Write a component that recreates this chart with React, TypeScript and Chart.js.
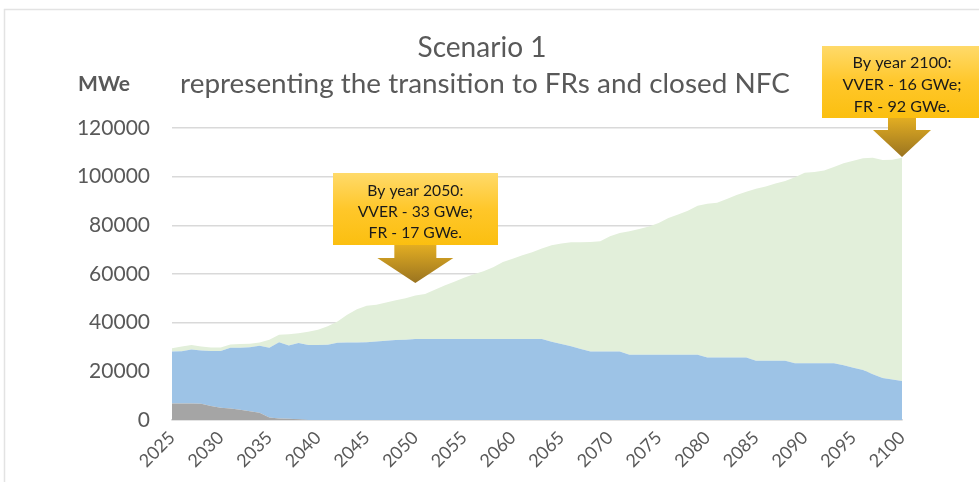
import React, { useEffect, useRef } from "react";
import { Chart, registerables } from "chart.js";

Chart.register(...registerables);

// ---------- DATA ----------
const years: string[] = [
  "2025", "2026", "2027", "2028", "2029", "2030", "2031", "2032", "2033", "2034",
  "2035", "2036", "2037", "2038", "2039", "2040", "2041", "2042", "2043", "2044",
  "2045", "2046", "2047", "2048", "2049", "2050", "2051", "2052", "2053", "2054",
  "2055", "2056", "2057", "2058", "2059", "2060", "2061", "2062", "2063", "2064",
  "2065", "2066", "2067", "2068", "2069", "2070", "2071", "2072", "2073", "2074",
  "2075", "2076", "2077", "2078", "2079", "2080", "2081", "2082", "2083", "2084",
  "2085", "2086", "2087", "2088", "2089", "2090", "2091", "2092", "2093", "2094",
  "2095", "2096", "2097", "2098", "2099", "2100",
];

// grey: older units (MWe)
const oldUnits: number[] = [
  6800, 6800, 6800, 6700, 5800, 5000, 4700, 4200, 3600, 3000,
  1000, 600, 500, 300, 0, 0, 0, 0, 0, 0,
  0, 0, 0, 0, 0, 0, 0, 0, 0, 0,
  0, 0, 0, 0, 0, 0, 0, 0, 0, 0,
  0, 0, 0, 0, 0, 0, 0, 0, 0, 0,
  0, 0, 0, 0, 0, 0, 0, 0, 0, 0,
  0, 0, 0, 0, 0, 0, 0, 0, 0, 0,
  0, 0, 0, 0, 0, 0,
];

// blue: VVER (MWe)
const vverUnits: number[] = [
  21300, 21500, 22200, 21900, 22600, 23400, 25000, 25500, 26300, 27500,
  28700, 31400, 30100, 31300, 30800, 30800, 30900, 31700, 31900, 31900,
  32000, 32300, 32600, 32900, 33000, 33300, 33300, 33300, 33300, 33300,
  33300, 33300, 33300, 33300, 33300, 33300, 33300, 33300, 33300, 32200,
  31200, 30300, 29200, 28200, 28200, 28200, 28200, 26800, 26800, 26800,
  26800, 26800, 26800, 26800, 26800, 25700, 25700, 25700, 25700, 25700,
  24400, 24400, 24400, 24400, 23300, 23300, 23300, 23300, 23300, 22500,
  21500, 20500, 18800, 17300, 16600, 16000,
];

// green: FR (MWe)
const frUnits: number[] = [
  1400, 1900, 1800, 1600, 1400, 1400, 1300, 1500, 1400, 1400,
  3300, 3000, 4600, 4100, 5500, 6300, 7600, 8800, 11400, 13600,
  15000, 15100, 15700, 16300, 17000, 17900, 18500, 20200, 22000, 23500,
  25200, 26600, 27800, 29500, 31600, 33000, 34400, 35600, 37200, 39600,
  41300, 42700, 43800, 45000, 45300, 47300, 48700, 50800, 51700, 52700,
  54200, 56200, 57700, 59200, 61200, 63200, 63600, 65100, 66800, 68100,
  70600, 71600, 72800, 73800, 76500, 78300, 78600, 79200, 80700, 83000,
  85000, 87100, 89000, 89500, 90400, 91800,
];

const yMin = 0;
const yMax = 120000;
const yStep = 20000;

const titleLines: string[] = ["Scenario 1", "representing the transition to FRs and closed NFC"];
const yUnitLabel = "MWe";

const callout2050: string[] = ["By year 2050:", "VVER - 33 GWe;", "FR - 17 GWe."];
const callout2100: string[] = ["By year 2100:", "VVER - 16 GWe;", "FR - 92 GWe."];

// ---------- STYLE ----------
const FONT = "Lato, 'DejaVu Sans', sans-serif";
const TEXT_GREY = "#595959";
const GRID = "#d9d9d9";

type CalloutStyle = {
  yearIndex: number;
  lines: string[];
  boxLeft: number;
  boxRight: number;
  boxTop: number;
  boxBottom: number;
  textWidth: number;
  lineYs: number[];
  shaftHalf: number;
  headHalf: number;
  shaftBottom: number;
  tipY: number;
};

const callouts: CalloutStyle[] = [
  {
    yearIndex: years.indexOf("2050"),
    lines: callout2050,
    boxLeft: 333, boxRight: 498, boxTop: 173, boxBottom: 245,
    textWidth: 96,
    lineYs: [191, 212, 233],
    shaftHalf: 21, headHalf: 38, shaftBottom: 258, tipY: 283,
  },
  {
    yearIndex: years.indexOf("2100"),
    lines: callout2100,
    boxLeft: 822, boxRight: 990, boxTop: 46, boxBottom: 118,
    textWidth: 99,
    lineYs: [63, 85, 107],
    shaftHalf: 14, headHalf: 29, shaftBottom: 130, tipY: 157,
  },
];

function fitSize(ctx: CanvasRenderingContext2D, text: string, weight: string, target: number): number {
  ctx.font = `${weight} 100px ${FONT}`;
  const w = ctx.measureText(text).width;
  return (100 * target) / w;
}

const overlayPlugin = {
  id: "overlay",
  afterDraw(chart: any) {
    const ctx: CanvasRenderingContext2D = chart.ctx;
    const xScale = chart.scales.x;
    ctx.save();

    // outer frame
    ctx.strokeStyle = "#e3e3e3";
    ctx.lineWidth = 1.5;
    ctx.beginPath();
    ctx.moveTo(4.5, 482);
    ctx.lineTo(4.5, 9.5);
    ctx.lineTo(979, 9.5);
    ctx.stroke();

    // titles
    ctx.fillStyle = TEXT_GREY;
    ctx.textAlign = "center";
    ctx.textBaseline = "middle";
    let s = fitSize(ctx, titleLines[0], "normal", 129);
    ctx.font = `normal ${s}px ${FONT}`;
    ctx.fillText(titleLines[0], 482, 48);
    s = fitSize(ctx, titleLines[1], "normal", 610);
    ctx.font = `normal ${s}px ${FONT}`;
    ctx.fillText(titleLines[1], 485, 84);

    // unit label
    s = fitSize(ctx, yUnitLabel, "bold", 52);
    ctx.font = `bold ${s}px ${FONT}`;
    ctx.textAlign = "left";
    ctx.fillText(yUnitLabel, 78, 84);

    // callouts
    for (const c of callouts) {
      const cx = xScale.getPixelForValue(c.yearIndex);
      // arrow
      const ag = ctx.createLinearGradient(0, c.boxBottom, 0, c.tipY);
      ag.addColorStop(0, "#e2ad22");
      ag.addColorStop(1, "#9a7420");
      ctx.fillStyle = ag;
      ctx.beginPath();
      ctx.moveTo(cx - c.shaftHalf, c.boxBottom - 1);
      ctx.lineTo(cx + c.shaftHalf, c.boxBottom - 1);
      ctx.lineTo(cx + c.shaftHalf, c.shaftBottom);
      ctx.lineTo(cx + c.headHalf, c.shaftBottom);
      ctx.lineTo(cx, c.tipY);
      ctx.lineTo(cx - c.headHalf, c.shaftBottom);
      ctx.lineTo(cx - c.shaftHalf, c.shaftBottom);
      ctx.closePath();
      ctx.fill();
      // box
      const bg = ctx.createLinearGradient(0, c.boxTop, 0, c.boxBottom);
      bg.addColorStop(0, "#ffda6a");
      bg.addColorStop(0.5, "#ffc72a");
      bg.addColorStop(1, "#fbbf10");
      ctx.fillStyle = bg;
      ctx.fillRect(c.boxLeft, c.boxTop, c.boxRight - c.boxLeft, c.boxBottom - c.boxTop);
      // text
      const fs = fitSize(ctx, c.lines[0], "normal", c.textWidth);
      ctx.font = `normal ${fs}px ${FONT}`;
      ctx.fillStyle = "#1a1a1a";
      ctx.textAlign = "center";
      ctx.textBaseline = "middle";
      c.lines.forEach((ln, i) => ctx.fillText(ln, cx, c.lineYs[i]));
    }
    ctx.restore();
  },
};

export default function App() {
  const ref = useRef<HTMLCanvasElement | null>(null);

  useEffect(() => {
    if (!ref.current) return;
    Chart.defaults.font.family = FONT;
    const chart = new Chart(ref.current, {
      type: "line",
      data: {
        labels: years,
        datasets: [
          {
            label: "Old units",
            data: oldUnits,
            backgroundColor: "#a5a5a5",
            borderColor: "transparent",
            borderWidth: 0,
            pointRadius: 0,
            fill: "origin",
            tension: 0,
          },
          {
            label: "VVER",
            data: vverUnits,
            backgroundColor: "#9dc3e6",
            borderColor: "transparent",
            borderWidth: 0,
            pointRadius: 0,
            fill: "-1",
            tension: 0,
          },
          {
            label: "FR",
            data: frUnits,
            backgroundColor: "#e2efda",
            borderColor: "transparent",
            borderWidth: 0,
            pointRadius: 0,
            fill: "-1",
            tension: 0,
          },
        ],
      },
      options: {
        responsive: false,
        animation: false,
        layout: { padding: { top: 128, right: 77, left: 0, bottom: 0 } },
        plugins: {
          legend: { display: false },
          title: { display: false },
          tooltip: { enabled: false },
        },
        scales: {
          x: {
            offset: false,
            grid: { display: false, drawTicks: false },
            border: { display: true, color: GRID, width: 1.5 },
            ticks: {
              autoSkip: false,
              minRotation: 45,
              maxRotation: 45,
              padding: 7,
              color: TEXT_GREY,
              font: { size: 18, family: FONT },
              callback: (_v: any, i: number) => (Number(years[i]) % 5 === 0 ? years[i] : ""),
            },
            afterFit: (s: any) => {
              s.height = 62;
            },
          },
          y: {
            stacked: true,
            min: yMin,
            max: yMax,
            grid: { color: GRID, lineWidth: 1.5, drawTicks: false },
            border: { display: false },
            ticks: {
              stepSize: yStep,
              padding: 22,
              color: TEXT_GREY,
              font: { size: 21, family: FONT },
              callback: (v: any) => String(v),
            },
            afterFit: (s: any) => {
              s.width = 172;
            },
          },
        },
      },
      plugins: [overlayPlugin],
    });
    return () => chart.destroy();
  }, []);

  return (
    <div style={{ position: "fixed", left: 0, top: 0, width: 979, height: 482, background: "#fff" }}>
      <canvas ref={ref} width={979} height={482} style={{ display: "block" }} />
    </div>
  );
}
